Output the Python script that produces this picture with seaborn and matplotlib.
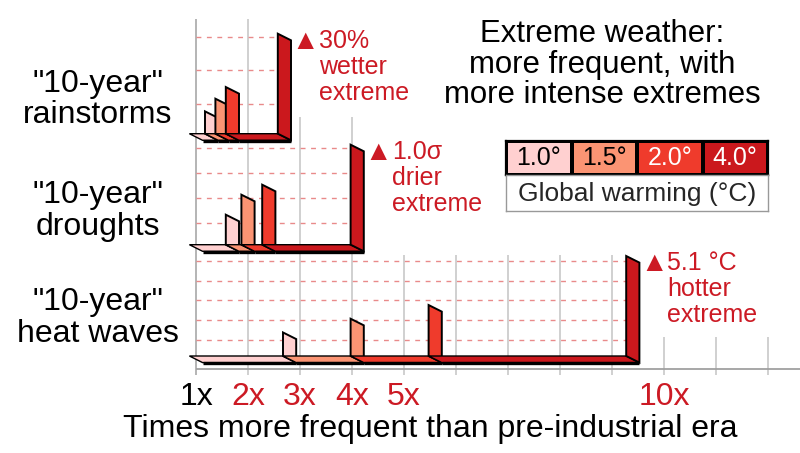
import numpy as np
import matplotlib
matplotlib.use("Agg")
import matplotlib.pyplot as plt
from matplotlib.patches import Polygon
from matplotlib.colors import ListedColormap
import seaborn as sns

# ---------------- data ----------------
warming_levels = ["1.0°", "1.5°", "2.0°", "4.0°"]
row_names = ["rainstorms", "droughts", "heat waves"]
rain_freq = [1.3, 1.5, 1.7, 2.7]
rain_intensity = [6.7, 10.5, 14.0, 30.0]        # % wetter
drought_freq = [1.7, 2.0, 2.4, 4.1]
drought_intensity = [0.3, 0.5, 0.6, 1.0]        # sigma drier
heat_freq = [2.8, 4.1, 5.6, 9.4]
heat_intensity = [1.2, 1.9, 2.6, 5.1]           # degC hotter
grid_steps = [10.0, 0.25, 1.0]
extreme_labels = [["30%", "wetter", "extreme"],
                  ["1.0σ", "drier", "extreme"],
                  ["5.1 °C", "hotter", "extreme"]]
tick_values = [1, 2, 3, 4, 5, 10]
tick_labels = ["1x", "2x", "3x", "4x", "5x", "10x"]
title_lines = ["Extreme weather:", "more frequent, with", "more intense extremes"]
xlabel = "Times more frequent than pre-industrial era"
legend_title = "Global warming (°C)"

# ---------------- style / layout ----------------
colors = ["#ffd0d0", "#fb9473", "#ef3b2c", "#cb181d"]
RED = "#cc1a24"
sns.set_theme(style="white")
plt.rcParams["font.family"] = ["Liberation Sans", "DejaVu Sans"]

W, H = 800, 453
X1_PX, PX_PER_X = 196.0, 52.0
def px_x(p):
    return 1 + (p - X1_PX) / PX_PER_X

row_mid = [137.0, 248.0, 359.3]
row_grid_top = [19.3, 117.3, 255.0]
row_label_base = [91.7, 203.3, 310.0]
GRID_TOP_REST = 337.0
WALL_PX = 100.0
AXIS_Y = 369.3
DX = 6.6 / PX_PER_X
DY = 3.3
LABEL_STEP = 31.6
ANN_STEP = 26.0

fig = plt.figure(figsize=(8, 4.53), dpi=100)
ax = fig.add_axes([0, 0, 1, 1])
ax.set_xlim(px_x(0), px_x(W))
ax.set_ylim(H, 0)
ax.axis("off")

rows = [(rain_freq, rain_intensity), (drought_freq, drought_intensity),
        (heat_freq, heat_intensity)]

# vertical grid lines + ticks
max_f = [max(f) for f, _ in rows]
for k in range(1, 13):
    top = GRID_TOP_REST
    for r, mf in enumerate(max_f):
        if mf >= k:
            top = row_grid_top[r]
            break
    ax.vlines(k, top, AXIS_Y + 5.7, color="#a0a0a0" if k == 1 else "#c4c4c4",
              lw=1.1, zorder=1)
ax.hlines(AXIS_Y, 1, px_x(W), color="#a0a0a0", lw=1.3, zorder=1)

z = 5
for r, (freq, inten) in enumerate(rows):
    mid = row_mid[r]
    scale = WALL_PX / max(inten)
    # dashed grid lines
    n = int(round(max(inten) / grid_steps[r]))
    for k in range(1, n + 1):
        y = mid - k * grid_steps[r] * scale
        ax.hlines(y, 1, max(freq) - DX, color="#e98a8a", lw=1.0,
                  linestyles=(0, (3.5, 4)), zorder=2)
    prev = 1.0
    for i, (f, v) in enumerate(zip(freq, inten)):
        # floor strip
        floor = [(prev - DX, mid - DY), (f - DX, mid - DY),
                 (f + DX, mid + DY), (prev + DX, mid + DY)]
        ax.add_patch(Polygon(floor, closed=True, facecolor=colors[i],
                             edgecolor="black", lw=1.0, zorder=z))
        ax.plot([prev + DX, f + DX], [mid + DY + 0.6, mid + DY + 0.6],
                color="black", lw=2.4, solid_capstyle="butt", zorder=z + 1)
        z += 2
        # wall
        hpx = v * scale
        wall = [(f - DX, mid - DY), (f - DX, mid - DY - hpx),
                (f + DX, mid + DY - hpx), (f + DX, mid + DY)]
        ax.add_patch(Polygon(wall, closed=True, facecolor=colors[i],
                             edgecolor="black", lw=1.4, joinstyle="miter",
                             zorder=z))
        z += 2
        prev = f
    # annotation of most extreme change
    fmax = max(freq)
    top_back = mid - DY - WALL_PX
    base = top_back + 14.5
    text_x = fmax + DX + 28.0 / PX_PER_X
    ax.text(text_x + 0.3 / PX_PER_X, base + 0.5, "▲", color=RED,
            fontsize=20, ha="right", va="baseline", zorder=20)
    for j, line in enumerate(extreme_labels[r]):
        ax.text(text_x, base + j * ANN_STEP, line,
                color=RED, fontsize=18, ha="left", va="baseline", zorder=20)
    # row labels
    ax.text(px_x(97.7), row_label_base[r], '"10-year"', fontsize=23,
            ha="center", va="baseline", color="black")
    ax.text(px_x(97.7), row_label_base[r] + LABEL_STEP, row_names[r],
            fontsize=23, ha="center", va="baseline", color="black")

# tick labels
for v, lab in zip(tick_values, tick_labels):
    ax.text(v, 405, lab, fontsize=23, ha="center", va="baseline",
            color="black" if v == 1 else RED)
ax.text(px_x(430.5), 436.7, xlabel, fontsize=23, ha="center", va="baseline",
        color="black")

# title
for j, line in enumerate(title_lines):
    ax.text(px_x(602), 42.3 + j * 30.5, line, fontsize=22.4, ha="center",
            va="baseline", color="black")

# legend (seaborn heatmap)
lax = fig.add_axes([506 / W, 1 - 175 / H, 262 / W, 34 / H])
sns.heatmap(np.arange(4).reshape(1, 4), cmap=ListedColormap(colors),
            annot=np.array([warming_levels]), fmt="", cbar=False,
            linewidths=1.5, linecolor="black", xticklabels=False,
            yticklabels=False, ax=lax, annot_kws={"fontsize": 18})
for t, c in zip(lax.texts, ["black", "black", "white", "white"]):
    t.set_color(c)
for s in lax.spines.values():
    s.set_visible(True)
    s.set_color("black")
    s.set_linewidth(1.6)

bax = fig.add_axes([506 / W, 1 - 211 / H, 262 / W, 36 / H])
bax.set_xticks([])
bax.set_yticks([])
bax.set_facecolor("white")
for s in bax.spines.values():
    s.set_visible(True)
    s.set_color("#999999")
    s.set_linewidth(1.0)
bax.text(0.5, 0.47, legend_title, fontsize=19, ha="center", va="center",
         transform=bax.transAxes)

fig.savefig("out.png", dpi=100)
